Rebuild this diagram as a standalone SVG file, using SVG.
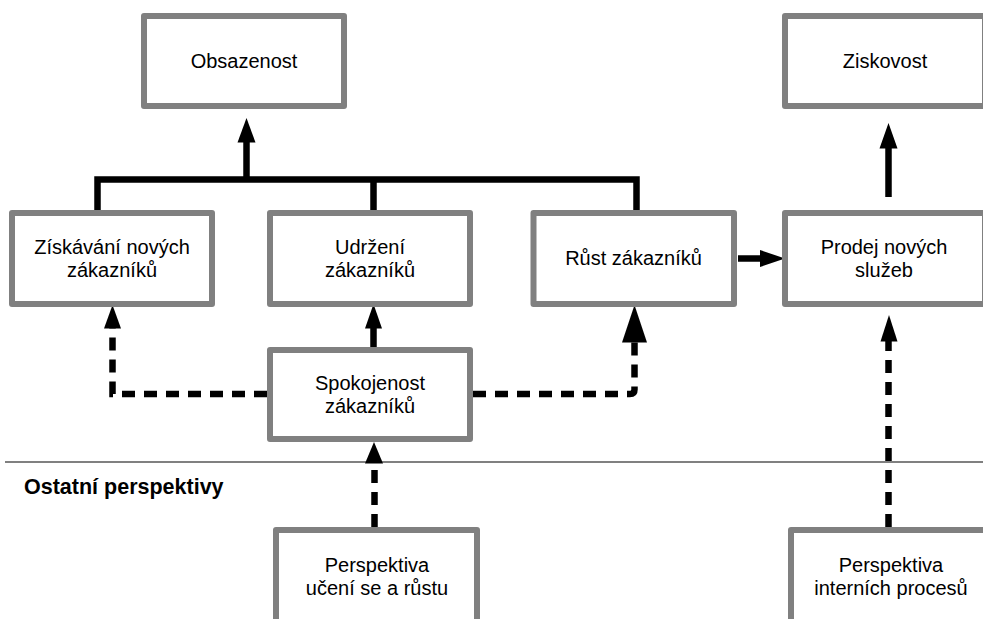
<svg xmlns="http://www.w3.org/2000/svg" width="983" height="619" viewBox="0 0 983 619">
  <style>
    .box { fill: #ffffff; stroke: #808080; stroke-width: 6; stroke-linejoin: round; }
    .lbl { font-family: "Liberation Sans", Arial, sans-serif; font-size: 20px; fill: #000000; text-anchor: middle; }
    .title { font-family: "Liberation Sans", Arial, sans-serif; font-size: 21.5px; font-weight: bold; fill: #000000; }
    .solid { fill: none; stroke: #000000; stroke-width: 6.5; stroke-linejoin: miter; stroke-linecap: butt; }
    .dash { fill: none; stroke: #000000; stroke-width: 6.5; stroke-dasharray: 13 9; stroke-linecap: butt; }
    .head { fill: #000000; stroke: none; }
    .sep { stroke: #808080; stroke-width: 2; }
  </style>

  <rect x="0" y="0" width="983" height="619" fill="#ffffff"/>

  <!-- separator between customer perspective and the others -->
  <line class="sep" x1="5" y1="462" x2="983" y2="462"/>
  <text class="title" x="24" y="494">Ostatní perspektivy</text>

  <g id="connectors">
    <!-- bracket joining the three customer boxes -->
    <path class="solid" d="M97.5 210 V179.5 H636.5 V210 M373.5 179.5 V210"/>
    <!-- bracket up to Obsazenost -->
    <line class="solid" x1="246.5" y1="179.5" x2="246.5" y2="140"/>
    <polygon class="head" points="246.5,118 237.5,142.5 255.5,142.5"/>
    <!-- Prodej nových služeb up to Ziskovost -->
    <line class="solid" x1="888.5" y1="197" x2="888.5" y2="146"/>
    <polygon class="head" points="888.5,123 879.5,148.5 897.5,148.5"/>
    <!-- Spokojenost up to Udržení -->
    <line class="solid" x1="373.5" y1="347" x2="373.5" y2="326"/>
    <polygon class="head" points="373.5,304 365,328.5 382,328.5"/>
    <!-- Růst to Prodej -->
    <line class="solid" x1="738" y1="258.5" x2="762" y2="258.5"/>
    <polygon class="head" points="785,258.5 760,250 760,267"/>
    <!-- Spokojenost to Získávání (dashed) -->
    <path class="dash" d="M267 394 H112.5 V328"/>
    <polygon class="head" points="112.5,305 104,328.5 121,328.5"/>
    <!-- Spokojenost to Růst (dashed) -->
    <path class="dash" d="M473 394 H630 Q634.5 394 634.5 389.5 V342"/>
    <polygon class="head" points="634.5,305 622,342.5 647,342.5"/>
    <!-- Perspektiva učení up to Spokojenost (dashed) -->
    <path class="dash" d="M374.5 527 V462"/>
    <polygon class="head" points="374,442 365,463.5 383,463.5"/>
    <!-- Perspektiva interních procesů up to Prodej (dashed) -->
    <path class="dash" d="M888.5 527 V341"/>
    <polygon class="head" points="889,315 880.5,341.5 897.5,341.5"/>
  </g>

  <g id="obsazenost">
    <rect class="box" x="144" y="16" width="200" height="90"/>
    <text class="lbl" x="244" y="68">Obsazenost</text>
  </g>

  <g id="ziskovost">
    <rect class="box" x="785" y="16" width="200" height="90"/>
    <text class="lbl" x="885" y="68">Ziskovost</text>
  </g>

  <g id="ziskavani">
    <rect class="box" x="12" y="213" width="200" height="91"/>
    <text class="lbl" x="112" y="254">Získávání nových</text>
    <text class="lbl" x="112" y="277">zákazníků</text>
  </g>

  <g id="udrzeni">
    <rect class="box" x="270" y="213" width="200" height="91"/>
    <text class="lbl" x="370" y="254">Udržení</text>
    <text class="lbl" x="370" y="277">zákazníků</text>
  </g>

  <g id="rust">
    <rect class="box" x="533.5" y="213" width="200.5" height="91"/>
    <text class="lbl" x="633.5" y="265">Růst zákazníků</text>
  </g>

  <g id="prodej">
    <rect class="box" x="785" y="213" width="200" height="91"/>
    <text class="lbl" x="884" y="254">Prodej nových</text>
    <text class="lbl" x="884" y="277">služeb</text>
  </g>

  <g id="spokojenost">
    <rect class="box" x="270" y="350" width="200" height="89"/>
    <text class="lbl" x="370" y="390">Spokojenost</text>
    <text class="lbl" x="370" y="413">zákazníků</text>
  </g>

  <g id="uceni">
    <rect class="box" x="276" y="530" width="201" height="100"/>
    <text class="lbl" x="377" y="572">Perspektiva</text>
    <text class="lbl" x="377" y="595">učení se a růstu</text>
  </g>

  <g id="interni">
    <rect class="box" x="791" y="530" width="200" height="100"/>
    <text class="lbl" x="891" y="572">Perspektiva</text>
    <text class="lbl" x="891" y="595">interních procesů</text>
  </g>
</svg>
